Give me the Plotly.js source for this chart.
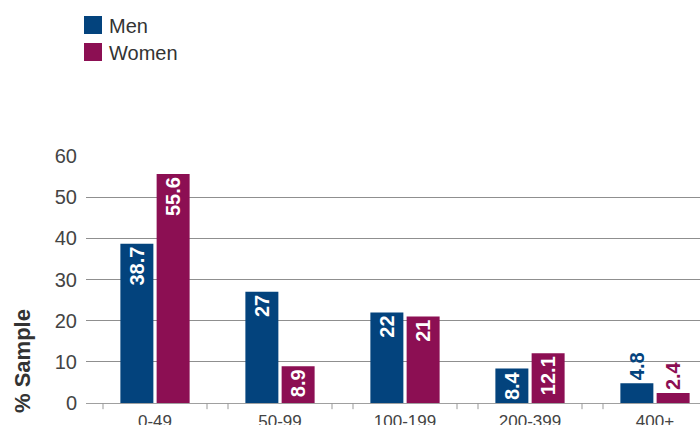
<!DOCTYPE html>
<html>
<head>
<meta charset="utf-8">
<script src="https://cdn.plot.ly/plotly-3.0.1.min.js"></script>
<style>html,body{margin:0;padding:0;background:#fff;}#chart{width:700px;height:425px;}</style>
</head>
<body>
<div id="chart"></div>
<script>
const categories = ['0-49', '50-99', '100-199', '200-399', '400+'];
const seriesNames = ['Men', 'Women'];
const men = [38.7, 27, 22, 8.4, 4.8];
const women = [55.6, 8.9, 21, 12.1, 2.4];
const menPositions = ['inside', 'inside', 'inside', 'inside', 'outside'];
const womenPositions = ['inside', 'inside', 'inside', 'inside', 'outside'];
const yTicks = [0, 10, 20, 30, 40, 50, 60];

const COLORS = ['#03437d', '#8c0f53'];
const FONT = 'Liberation Sans, Arial, sans-serif';

function barTrace(name, values, positions, color) {
  return {
    type: 'bar', name: name, x: categories, y: values,
    marker: {color: color, line: {width: 0}},
    text: values.map(v => String(v)),
    textposition: positions,
    textangle: -90,
    insidetextanchor: 'end',
    constraintext: 'none',
    cliponaxis: false,
    insidetextfont: {family: FONT, size: 20, color: '#ffffff', weight: 'bold'},
    outsidetextfont: {family: FONT, size: 20, color: color, weight: 'bold'},
    showlegend: false, hoverinfo: 'skip'
  };
}

const data = [
  barTrace(seriesNames[0], men, menPositions, COLORS[0]),
  barTrace(seriesNames[1], women, womenPositions, COLORS[1])
];

// geometry helpers (plot area: x 86..700 px, y 156..403 px)
const PL = 86, PW = 614, PB = 403, PH = 247;
const px = v => (v - PL) / PW;
const py = v => (PB - v) / PH;

// double tick marks either side of each category boundary
const shapes = [];
for (let k = 0; k <= categories.length; k++) {
  [-0.084, 0.084].forEach(d => {
    const xv = k - 0.5 + d;
    if (xv < -0.55 || xv > 4.36) return;
    shapes.push({type: 'line', xref: 'x', yref: 'paper', x0: xv, x1: xv, y0: 0, y1: -0.025,
      line: {color: '#999999', width: 1}});
  });
}

// legend drawn as swatches + labels
const annotations = [];
seriesNames.forEach((name, i) => {
  const top = 16 + i * 27;
  shapes.push({type: 'rect', xref: 'paper', yref: 'paper',
    x0: px(84), x1: px(102), y0: py(top + 18), y1: py(top),
    fillcolor: COLORS[i], line: {width: 0}});
  annotations.push({text: name, xref: 'paper', yref: 'paper', x: px(107), y: py(top + 9.5),
    xanchor: 'left', yanchor: 'middle', showarrow: false,
    font: {family: FONT, size: 20, color: '#333333'}});
});
annotations.push({
  text: '<b>% Sample</b>', textangle: -90, xref: 'paper', yref: 'paper',
  x: px(22), y: py(361), xanchor: 'center', yanchor: 'middle', showarrow: false,
  font: {family: FONT, size: 22, color: '#333333'}
});

const layout = {
  width: 700, height: 425,
  margin: {l: PL, r: 0, t: 156, b: 22},
  paper_bgcolor: '#ffffff', plot_bgcolor: '#ffffff',
  font: {family: FONT, color: '#333333'},
  barmode: 'group', bargap: 0.42, bargroupgap: 0.09,
  xaxis: {
    type: 'category', range: [-0.552, 4.36], showgrid: false, zeroline: false,
    showline: true, linecolor: '#a0a0a0', linewidth: 1, ticks: '',
    tickfont: {family: FONT, size: 17, color: '#444444'}, ticklabelstandoff: 3
  },
  yaxis: {
    range: [0, 60], tickvals: yTicks, ticktext: yTicks.map(String),
    showgrid: true, gridcolor: '#8f8f8f', gridwidth: 1, zeroline: false,
    showline: false, ticks: '', ticklabelstandoff: 8,
    tickfont: {family: FONT, size: 20, color: '#444444'}
  },
  showlegend: false,
  shapes: shapes,
  annotations: annotations
};

Plotly.newPlot('chart', data, layout, {displayModeBar: false, staticPlot: true});
</script>
</body>
</html>
